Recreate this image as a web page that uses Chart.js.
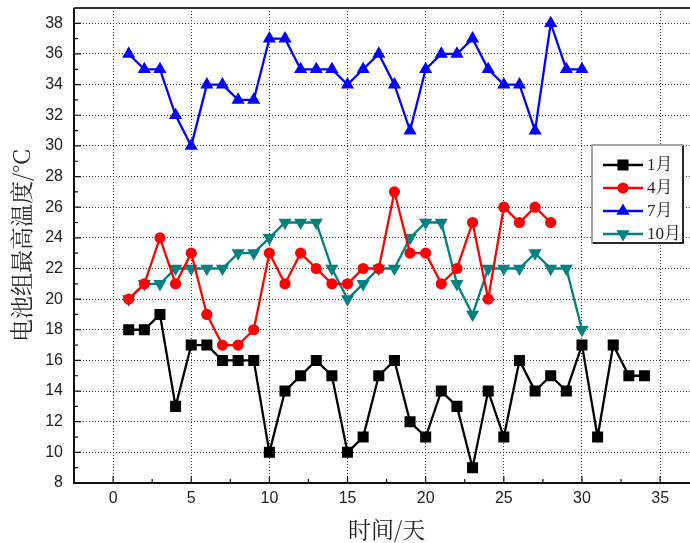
<!DOCTYPE html>
<html>
<head>
<meta charset="utf-8">
<script src="https://cdn.jsdelivr.net/npm/chart.js@4.4.1/dist/chart.umd.min.js"></script>
<style>
  html, body { margin: 0; padding: 0; background: #fff; overflow: hidden; }
  #wrap { width: 707px; height: 543px; }
</style>
</head>
<body>
<div id="wrap"><canvas id="line_chart" width="707" height="543"></canvas></div>
<script>
// day numbers (x) and max battery temperature per month
var days = [1, 2, 3, 4, 5, 6, 7, 8, 9, 10, 11, 12, 13, 14, 15, 16, 17, 18, 19, 20,
            21, 22, 23, 24, 25, 26, 27, 28, 29, 30, 31, 32, 33, 34];
var jan = [18, 18, 19, 13, 17, 17, 16, 16, 16, 10, 14, 15, 16, 15, 10, 11, 15, 16, 12, 11,
           14, 13, 9, 14, 11, 16, 14, 15, 14, 17, 11, 17, 15, 15];
var apr = [20, 21, 24, 21, 23, 19, 17, 17, 18, 23, 21, 23, 22, 21, 21, 22, 22, 27, 23, 23,
           21, 22, 25, 20, 26, 25, 26, 25];
var jul = [36, 35, 35, 32, 30, 34, 34, 33, 33, 37, 37, 35, 35, 35, 34, 35, 36, 34, 31, 35,
           36, 36, 37, 35, 34, 34, 31, 38, 35, 35];
var oct = [20, 21, 21, 22, 22, 22, 22, 23, 23, 24, 25, 25, 25, 22, 20, 21, 22, 22, 24, 25,
           25, 21, 19, 22, 22, 22, 23, 22, 22, 18];

var seriesNames = ['1月', '4月', '7月', '10月'];
var xTicks = [0, 5, 10, 15, 20, 25, 30, 35];
var yTicks = [8, 10, 12, 14, 16, 18, 20, 22, 24, 26, 28, 30, 32, 34, 36, 38];
var xMinor = [2.5, 7.5, 12.5, 17.5, 22.5, 27.5, 32.5];
var yMinor = [9, 11, 13, 15, 17, 19, 21, 23, 25, 27, 29, 31, 33, 35, 37];

function pts(vals) {
    return vals.map(function (v, i) { return { x: days[i], y: v }; });
}

function series(label, vals, color, style, radius, rot) {
    return {
        label: label,
        data: pts(vals),
        borderColor: color,
        backgroundColor: color,
        borderWidth: 2.3,
        pointStyle: style,
        pointRadius: radius,
        pointHoverRadius: radius,
        pointRotation: rot || 0,
        pointBorderWidth: 0,
        tension: 0
    };
}

// inward ticks, frame and the boxed legend
var framePlugin = {
    id: 'frame',
    afterDatasetsDraw: function (chart) {
        var ctx = chart.ctx, a = chart.chartArea;
        var xs = chart.scales.x, ys = chart.scales.y;
        ctx.save();
        ctx.strokeStyle = '#111';
        ctx.lineWidth = 1.2;
        ctx.beginPath();
        xTicks.forEach(function (v) { var p = xs.getPixelForValue(v); ctx.moveTo(p, a.bottom); ctx.lineTo(p, a.bottom - 7); });
        xMinor.forEach(function (v) { var p = xs.getPixelForValue(v); ctx.moveTo(p, a.bottom); ctx.lineTo(p, a.bottom - 4); });
        yTicks.forEach(function (v) { var p = ys.getPixelForValue(v); ctx.moveTo(a.left, p); ctx.lineTo(a.left + 7, p); });
        yMinor.forEach(function (v) { var p = ys.getPixelForValue(v); ctx.moveTo(a.left, p); ctx.lineTo(a.left + 4, p); });
        ctx.stroke();

        ctx.lineWidth = 2;
        ctx.strokeStyle = '#111';
        ctx.beginPath();
        ctx.moveTo(a.left, a.top);
        ctx.lineTo(a.left, a.bottom);
        ctx.lineTo(a.right, a.bottom);
        ctx.stroke();
        ctx.strokeStyle = '#333';
        ctx.beginPath();
        ctx.moveTo(a.left, a.top);
        ctx.lineTo(a.right, a.top);
        ctx.stroke();
        ctx.restore();
    },
    afterDraw: function (chart) {
        var ctx = chart.ctx;
        var bx = 592, by = 145, bw = 91, bh = 98;
        ctx.save();
        ctx.fillStyle = '#fff';
        ctx.fillRect(bx, by, bw, bh);
        ctx.strokeStyle = '#888';
        ctx.lineWidth = 1.5;
        ctx.strokeRect(bx, by, bw, bh);
        ctx.strokeStyle = '#000';
        ctx.beginPath();
        ctx.moveTo(bx + bw, by + 1);
        ctx.lineTo(bx + bw, by + bh);
        ctx.lineTo(bx + 1, by + bh);
        ctx.stroke();

        chart.data.datasets.forEach(function (ds, i) {
            var y = 165 + i * 23;
            ctx.strokeStyle = ds.borderColor;
            ctx.lineWidth = 2.3;
            ctx.beginPath();
            ctx.moveTo(603, y);
            ctx.lineTo(643, y);
            ctx.stroke();
            ctx.fillStyle = ds.backgroundColor;
            Chart.helpers.drawPoint(ctx, {
                pointStyle: ds.pointStyle,
                radius: ds.pointRadius,
                rotation: ds.pointRotation,
                borderWidth: 0
            }, 623, y);
            ctx.fillStyle = '#222';
            ctx.font = '17px "Liberation Serif", "Noto Serif CJK SC", "Noto Sans CJK SC", serif';
            ctx.textBaseline = 'middle';
            ctx.textAlign = 'left';
            ctx.fillText(ds.label, 647, y + 1);
        });
        ctx.restore();
    }
};

var tickFont = { family: '"Liberation Sans", Arial, sans-serif', size: 16 };
var titleFont = { family: '"Noto Serif CJK SC", "Noto Sans CJK SC", serif', size: 23 };

var ctx = document.getElementById('line_chart').getContext('2d');
new Chart(ctx, {
    type: 'line',
    data: {
        datasets: [
            series(seriesNames[0], jan, '#000000', 'rect', 7.8),
            series(seriesNames[1], apr, '#ff0000', 'circle', 5.6),
            series(seriesNames[2], jul, '#0000ff', 'triangle', 7.6),
            series(seriesNames[3], oct, '#008080', 'triangle', 7.6, 180)
        ]
    },
    options: {
        responsive: false,
        animation: false,
        layout: { padding: { top: 8, right: 1, left: 0, bottom: 0 } },
        plugins: {
            legend: { display: false },
            tooltip: { enabled: false }
        },
        scales: {
            x: {
                type: 'linear',
                min: -2.5,
                max: 37.5,
                afterBuildTicks: function (s) { s.ticks = xTicks.map(function (v) { return { value: v }; }); },
                afterFit: function (s) { s.height = 60; s.paddingLeft = 0; s.paddingRight = 0; },
                ticks: { font: tickFont, color: '#222', padding: 6, maxRotation: 0, autoSkip: false },
                grid: { color: '#333', lineWidth: 1, drawTicks: false },
                border: { display: false, dash: [1, 2] },
                title: { display: true, text: '时间/天', font: titleFont, color: '#222', padding: { top: 0, bottom: 0 } }
            },
            y: {
                min: 8,
                max: 39,
                afterBuildTicks: function (s) { s.ticks = yTicks.map(function (v) { return { value: v }; }); },
                afterFit: function (s) { s.width = 74; s.paddingTop = 0; s.paddingBottom = 0; },
                ticks: { font: tickFont, color: '#222', padding: 11, autoSkip: false },
                grid: { color: '#333', lineWidth: 1, drawTicks: false },
                border: { display: false, dash: [1, 2] },
                title: { display: true, text: '电池组最高温度/°C', font: titleFont, color: '#222', padding: { top: 7, bottom: 0 } }
            }
        }
    },
    plugins: [framePlugin]
});
</script>
</body>
</html>
